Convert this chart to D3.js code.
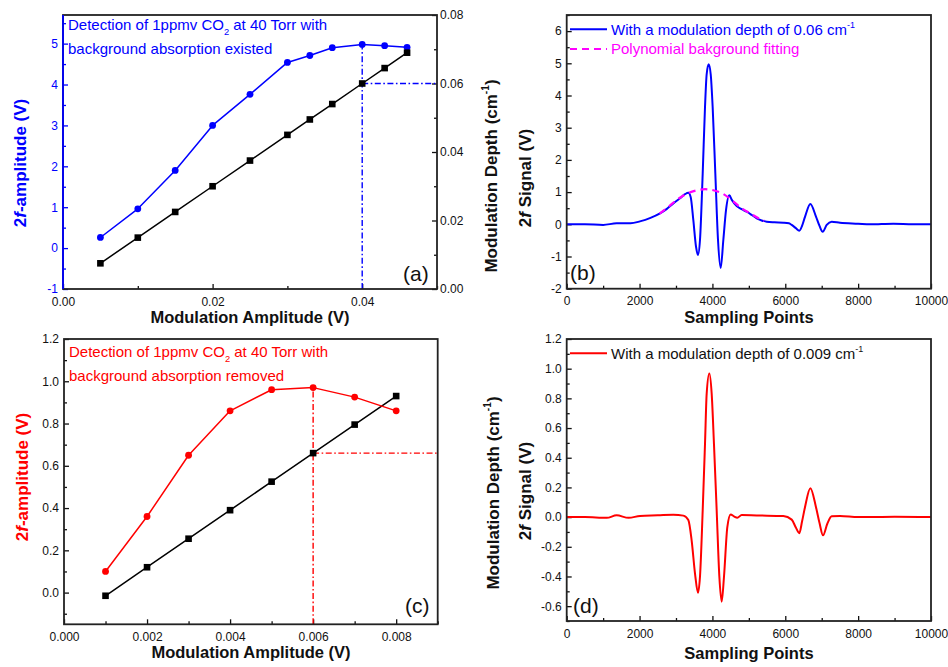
<!DOCTYPE html>
<html>
<head>
<meta charset="utf-8">
<script src="https://cdn.jsdelivr.net/npm/d3@7"></script>
<style>
  body { margin: 0; background: #fff; }
  svg { display: block; }
</style>
</head>
<body>
<script>
// ---------- data ----------
// (a) background absorption present
const ampA    = [0.005, 0.010, 0.015, 0.020, 0.025, 0.030, 0.033, 0.036, 0.040, 0.043, 0.046];
const amp2fA  = [0.26, 0.96, 1.90, 3.00, 3.76, 4.54, 4.71, 4.90, 4.98, 4.95, 4.91];
const depthA  = [0.0075, 0.015, 0.0225, 0.030, 0.0375, 0.045, 0.0495, 0.054, 0.060, 0.0645, 0.069];
const optAmpA = 0.040, optDepthA = 0.060;

// (c) background absorption removed
const ampC    = [0.001, 0.002, 0.003, 0.004, 0.005, 0.006, 0.007, 0.008];
const amp2fC  = [0.10, 0.36, 0.65, 0.86, 0.96, 0.97, 0.925, 0.86];
const depthC  = [0.0015, 0.003, 0.0045, 0.006, 0.0075, 0.009, 0.0105, 0.012];
const optAmpC = 0.006, optDepthC = 0.009;

// (b) 2f signal, modulation depth 0.06 cm-1
const sampB = [0, 500, 1000, 1370, 1750, 2010, 2300, 2561, 2750, 2927, 3100, 3247, 3339, 3403, 3476, 3549,
               3604, 3659, 3733, 3796, 3842, 3897, 3953, 4007, 4080, 4153, 4227, 4300, 4373, 4464, 4537,
               4666, 4800, 4941, 5080, 5215, 5350, 5490, 5700, 5946, 6100, 6176, 6290, 6386, 6460, 6541,
               6688, 6843, 6940, 7027, 7137, 7274, 7502, 8000, 8330, 8965, 9500, 10000];
const sigB  = [0, 0, -0.02, 0.03, 0.03, 0.09, 0.20, 0.34, 0.48, 0.65, 0.80, 0.935, 0.976, 0.85, 0.13, -0.69,
               -0.95, -0.48, 1.57, 3.63, 4.66, 4.97, 4.66, 3.63, 1.57, -0.48, -1.36, -0.48, 0.44, 0.90, 0.75,
               0.57, 0.47, 0.39, 0.29, 0.185, 0.12, 0.08, 0.06, 0.05, 0.03, -0.02, -0.12, -0.20, -0.05, 0.23,
               0.63, 0.24, -0.05, -0.23, -0.02, 0.08, 0.05, 0.02, 0.0, 0.02, 0.0, 0.0];
// polynomial background under the main line
const fitX  = [2550, 2800, 3050, 3300, 3550, 3800, 4050, 4300, 4550, 4800, 5050, 5300, 5420];
const fitY  = [0.33, 0.55, 0.78, 0.95, 1.05, 1.09, 1.05, 0.94, 0.73, 0.50, 0.33, 0.17, 0.11];

// (d) 2f signal, modulation depth 0.009 cm-1
const sampD = [0, 500, 1100, 1370, 1700, 2012, 2500, 2927, 3202, 3339, 3431, 3522, 3604, 3659, 3733, 3796,
               3842, 3915, 3980, 4043, 4117, 4190, 4254, 4318, 4409, 4501, 4592, 4684, 4803, 5215, 5946,
               6176, 6290, 6386, 6460, 6541, 6688, 6843, 6940, 7036, 7154, 7274, 7502, 8000, 9000, 10000];
const sigD  = [0, 0, -0.005, 0.012, -0.005, 0.008, 0.012, 0.016, 0.010, -0.02, -0.16, -0.38, -0.51, -0.40, 0.045, 0.49,
               0.83, 0.968, 0.83, 0.49, 0.045, -0.40, -0.57, -0.40, -0.067, 0.018, 0.005, -0.004, 0.014, 0.011, 0.007,
               -0.017, -0.07, -0.108, -0.03, 0.067, 0.195, 0.067, -0.04, -0.123, -0.045, 0.005, 0.007, 0.0, 0.003, 0.0];

// tick values
const ticksAx  = [0, 0.02, 0.04],               minorAx  = [0.01, 0.03, 0.05];
const ticksAy  = [-1, 0, 1, 2, 3, 4, 5],        minorAy  = [-0.5, 0.5, 1.5, 2.5, 3.5, 4.5, 5.5];
const ticksAr  = [0, 0.02, 0.04, 0.06, 0.08],   minorAr  = [0.01, 0.03, 0.05, 0.07];
const ticksCx  = [0, 0.002, 0.004, 0.006, 0.008], minorCx = [0.001, 0.003, 0.005, 0.007, 0.009];
const ticksCy  = [0, 0.2, 0.4, 0.6, 0.8, 1.0, 1.2], minorCy = [-0.1, 0.1, 0.3, 0.5, 0.7, 0.9, 1.1];
const ticksSx  = [0, 2000, 4000, 6000, 8000, 10000], minorSx = [1000, 3000, 5000, 7000, 9000];
const ticksBy  = [-2, -1, 0, 1, 2, 3, 4, 5, 6], minorBy = [-1.5, -0.5, 0.5, 1.5, 2.5, 3.5, 4.5, 5.5, 6.5];
const ticksDy  = [-0.6, -0.4, -0.2, 0, 0.2, 0.4, 0.6, 0.8, 1.0, 1.2],
      minorDy  = [-0.7, -0.5, -0.3, -0.1, 0.1, 0.3, 0.5, 0.7, 0.9, 1.1];

// ---------- drawing ----------
const FONT = "'Liberation Sans', Arial, Helvetica, sans-serif";
const BLUE = "#0000ff", RED = "#ff0000", MAG = "#ff00ff", INK = "#111";
const FRAME = "#222";

const svg = d3.select("body").append("svg")
  .attr("width", 948).attr("height", 667)
  .style("font-family", FONT);

// text with sub/superscripts and italic parts
function rich(sel, parts, fs) {
  let shift = 0;
  parts.forEach(p => {
    if (typeof p === "string") {
      sel.append("tspan").attr("dy", -shift).text(p); shift = 0;
    } else if (p.sub !== undefined) {
      const d = fs * 0.32;
      sel.append("tspan").attr("font-size", fs * 0.62).attr("dy", d - shift).text(p.sub); shift = d;
    } else if (p.sup !== undefined) {
      const d = -fs * 0.45;
      sel.append("tspan").attr("font-size", fs * 0.6).attr("dy", d - shift).text(p.sup); shift = d;
    } else if (p.it !== undefined) {
      sel.append("tspan").attr("font-style", "italic").attr("dy", -shift).text(p.it); shift = 0;
    }
  });
  return sel;
}

function styleAxis(s, color, fs) {
  s.select(".domain").remove();
  s.attr("font-family", FONT).attr("font-size", fs || 12);
  s.selectAll(".tick line").attr("stroke", color).attr("stroke-width", 1.3);
  s.selectAll(".tick text").attr("fill", color);
}

function axisPair(g, axisFn, scale, major, minor, fmt, transform, color, pad) {
  g.append("g").attr("transform", transform)
    .call(axisFn(scale).tickValues(minor).tickSize(-3).tickSizeOuter(0).tickFormat(""))
    .call(s => styleAxis(s, color));
  g.append("g").attr("transform", transform)
    .call(axisFn(scale).tickValues(major).tickSize(-5).tickSizeOuter(0).tickPadding(pad).tickFormat(fmt))
    .call(s => styleAxis(s, color));
}

function frame(p) {
  svg.append("rect")
    .attr("x", p.x0).attr("y", p.y0)
    .attr("width", p.x1 - p.x0).attr("height", p.y1 - p.y0)
    .attr("fill", "none").attr("stroke", FRAME).attr("stroke-width", 1.8);
}

function rotLabel(x, y, parts, color, fs) {
  const t = svg.append("text")
    .attr("transform", `translate(${x},${y}) rotate(-90)`)
    .attr("text-anchor", "middle").attr("font-weight", "bold")
    .attr("font-size", fs).attr("fill", color);
  rich(t, parts, fs);
}

function xTitle(x, y, str) {
  svg.append("text").attr("x", x).attr("y", y).attr("text-anchor", "middle")
    .attr("font-weight", "bold").attr("font-size", 16.5).attr("fill", INK).text(str);
}

function panelTag(x, y, str) {
  svg.append("text").attr("x", x).attr("y", y).attr("font-size", 21).attr("fill", INK).text(str);
}

function squares(g, xs, ys, x, y) {
  g.selectAll(null).data(xs).join("rect")
    .attr("x", (d) => x(d) - 3.3).attr("y", (d, i) => y(ys[i]) - 3.3)
    .attr("width", 6.6).attr("height", 6.6).attr("fill", "#000");
}
function circles(g, xs, ys, x, y, color) {
  g.selectAll(null).data(xs).join("circle")
    .attr("cx", (d) => x(d)).attr("cy", (d, i) => y(ys[i]))
    .attr("r", 3.4).attr("fill", color);
}
function polyline(g, xs, ys, x, y, color, w, curve) {
  const line = d3.line().x(d => x(d[0])).y(d => y(d[1])).curve(curve || d3.curveLinear);
  return g.append("path").datum(xs.map((v, i) => [v, ys[i]]))
    .attr("d", line).attr("fill", "none").attr("stroke", color)
    .attr("stroke-width", w).attr("stroke-linejoin", "round");
}
const DASHDOT = "6,2.5,1.6,2.5";

const fx2 = d => d.toFixed(2), fx3 = d => d.toFixed(3), fx1 = d => d.toFixed(1), fx0 = d => String(d);

// ===== panel (a) =====
{
  const p = { x0: 63, x1: 437, y0: 15, y1: 289 };
  const x  = d3.scaleLinear().domain([0, 0.05]).range([p.x0, p.x1]);
  const y  = d3.scaleLinear().domain([-1, 5.7]).range([p.y1, p.y0]);
  const yr = d3.scaleLinear().domain([0, 0.08]).range([p.y1, p.y0]);
  const g = svg.append("g");

  frame(p);
  svg.append("line").attr("x1", p.x0).attr("x2", p.x0).attr("y1", p.y0).attr("y2", p.y1)
    .attr("stroke", BLUE).attr("stroke-width", 1.8);

  axisPair(g, d3.axisBottom, x, ticksAx, minorAx, fx2, `translate(0,${p.y1})`, INK, 8);
  axisPair(g, d3.axisLeft, y, ticksAy, minorAy, fx0, `translate(${p.x0},0)`, BLUE, 5);
  axisPair(g, d3.axisRight, yr, ticksAr, minorAr, fx2, `translate(${p.x1},0)`, INK, 3);

  // optimum markers
  g.append("line").attr("x1", x(optAmpA)).attr("x2", x(optAmpA))
    .attr("y1", p.y1).attr("y2", y(amp2fA[ampA.indexOf(optAmpA)]))
    .attr("stroke", BLUE).attr("stroke-width", 1.4).attr("stroke-dasharray", DASHDOT);
  g.append("line").attr("x1", x(optAmpA)).attr("x2", p.x1)
    .attr("y1", yr(optDepthA)).attr("y2", yr(optDepthA))
    .attr("stroke", BLUE).attr("stroke-width", 1.4).attr("stroke-dasharray", DASHDOT);

  polyline(g, ampA, amp2fA, x, y, BLUE, 1.5);
  circles(g, ampA, amp2fA, x, y, BLUE);
  polyline(g, ampA, depthA, x, yr, "#000", 1.5);
  squares(g, ampA, depthA, x, yr);

  const t1 = svg.append("text").attr("x", 68).attr("y", 30).attr("font-size", 15).attr("fill", BLUE);
  rich(t1, ["Detection of 1ppmv CO", { sub: "2" }, " at 40 Torr with"], 15);
  svg.append("text").attr("x", 68).attr("y", 54).attr("font-size", 15).attr("fill", BLUE)
    .text("background absorption existed");

  rotLabel(26, 163, ["2", { it: "f" }, "-amplitude (V)"], BLUE, 17);
  rotLabel(497, 176, ["Modulation Depth (cm", { sup: "-1" }, ")"], INK, 17);
  xTitle(250, 323, "Modulation Amplitude (V)");
  panelTag(403, 281, "(a)");
}

// ===== panel (b) =====
{
  const p = { x0: 566.7, x1: 931, y0: 15, y1: 288.7 };
  const x = d3.scaleLinear().domain([0, 10000]).range([p.x0, p.x1]);
  const y = d3.scaleLinear().domain([-2, 6.5]).range([p.y1, p.y0]);
  const g = svg.append("g");

  frame(p);
  axisPair(g, d3.axisBottom, x, ticksSx, minorSx, fx0, `translate(0,${p.y1})`, INK, 8);
  axisPair(g, d3.axisLeft, y, ticksBy, minorBy, fx0, `translate(${p.x0},0)`, INK, 5);

  polyline(g, sampB, sigB, x, y, BLUE, 2, d3.curveMonotoneX);
  polyline(g, fitX, fitY, x, y, MAG, 2.2, d3.curveMonotoneX).attr("stroke-dasharray", "7,5");

  // legend
  g.append("line").attr("x1", 570).attr("x2", 607).attr("y1", 29.3).attr("y2", 29.3)
    .attr("stroke", BLUE).attr("stroke-width", 2);
  const t = svg.append("text").attr("x", 611).attr("y", 34.6).attr("font-size", 15).attr("fill", BLUE);
  rich(t, ["With a modulation depth of 0.06 cm", { sup: "-1" }], 15);
  g.append("line").attr("x1", 570).attr("x2", 607).attr("y1", 49).attr("y2", 49)
    .attr("stroke", MAG).attr("stroke-width", 2.2).attr("stroke-dasharray", "7,5");
  svg.append("text").attr("x", 611).attr("y", 54.3).attr("font-size", 15).attr("fill", MAG)
    .text("Polynomial bakground fitting");

  rotLabel(531, 178, ["2", { it: "f" }, " Signal (V)"], INK, 17);
  xTitle(749, 323, "Sampling Points");
  panelTag(570, 280, "(b)");
}

// ===== panel (c) =====
{
  const p = { x0: 64, x1: 437.7, y0: 339, y1: 624.3 };
  const x  = d3.scaleLinear().domain([0, 0.009]).range([p.x0, p.x1]);
  const y  = d3.scaleLinear().domain([-0.15, 1.2]).range([p.y1, p.y0]);
  const yr = d3.scaleLinear().domain([0, 0.015]).range([p.y1, p.y0]);
  const g = svg.append("g");

  frame(p);
  axisPair(g, d3.axisBottom, x, ticksCx, minorCx, fx3, `translate(0,${p.y1})`, INK, 8);
  axisPair(g, d3.axisLeft, y, ticksCy, minorCy, fx1, `translate(${p.x0},0)`, INK, 5);

  g.append("line").attr("x1", x(optAmpC)).attr("x2", x(optAmpC))
    .attr("y1", p.y1).attr("y2", y(amp2fC[ampC.indexOf(optAmpC)]))
    .attr("stroke", RED).attr("stroke-width", 1.4).attr("stroke-dasharray", DASHDOT);
  g.append("line").attr("x1", x(optAmpC)).attr("x2", p.x1)
    .attr("y1", yr(optDepthC)).attr("y2", yr(optDepthC))
    .attr("stroke", RED).attr("stroke-width", 1.4).attr("stroke-dasharray", DASHDOT);

  polyline(g, ampC, depthC, x, yr, "#000", 1.5);
  squares(g, ampC, depthC, x, yr);
  polyline(g, ampC, amp2fC, x, y, RED, 1.5);
  circles(g, ampC, amp2fC, x, y, RED);

  const t1 = svg.append("text").attr("x", 69).attr("y", 357).attr("font-size", 15).attr("fill", RED);
  rich(t1, ["Detection of 1ppmv CO", { sub: "2" }, " at 40 Torr with"], 15);
  svg.append("text").attr("x", 69).attr("y", 381).attr("font-size", 15).attr("fill", RED)
    .text("background absorption removed");

  rotLabel(28, 477, ["2", { it: "f" }, "-amplitude (V)"], RED, 17);
  rotLabel(499, 493, ["Modulation Depth (cm", { sup: "-1" }, ")"], INK, 17);
  xTitle(251, 658, "Modulation Amplitude (V)");
  panelTag(405, 613, "(c)");
}

// ===== panel (d) =====
{
  const p = { x0: 566.7, x1: 931, y0: 339, y1: 621 };
  const x = d3.scaleLinear().domain([0, 10000]).range([p.x0, p.x1]);
  const y = d3.scaleLinear().domain([-0.7, 1.2]).range([p.y1, p.y0]);
  const g = svg.append("g");

  frame(p);
  axisPair(g, d3.axisBottom, x, ticksSx, minorSx, fx0, `translate(0,${p.y1})`, INK, 8);
  axisPair(g, d3.axisLeft, y, ticksDy, minorDy, fx1, `translate(${p.x0},0)`, INK, 5);

  polyline(g, sampD, sigD, x, y, RED, 2, d3.curveMonotoneX);

  g.append("line").attr("x1", 570).attr("x2", 607).attr("y1", 353.3).attr("y2", 353.3)
    .attr("stroke", RED).attr("stroke-width", 2);
  const t = svg.append("text").attr("x", 611).attr("y", 358.6).attr("font-size", 15).attr("fill", INK);
  rich(t, ["With a modulation depth of 0.009 cm", { sup: "-1" }], 15);

  rotLabel(531, 491, ["2", { it: "f" }, " Signal (V)"], INK, 17);
  xTitle(749, 659, "Sampling Points");
  panelTag(573, 613, "(d)");
}
</script>
</body>
</html>
